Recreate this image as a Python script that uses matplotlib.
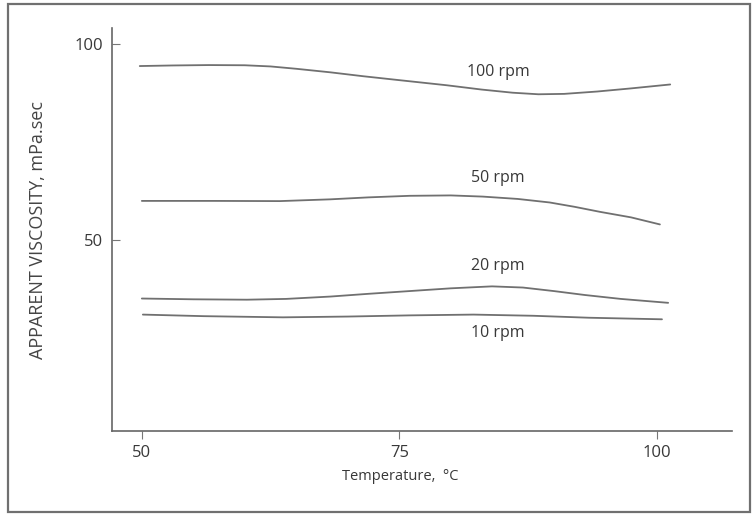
import matplotlib
matplotlib.use("Agg")
import matplotlib.pyplot as plt
from matplotlib.patches import Rectangle

plt.rcParams['font.family'] = ['Open Sans', 'DejaVu Sans']

## Apparent viscosity vs temperature
temp_100 = [49.8, 53.0, 56.5, 60.0, 62.5, 65.0, 68.3, 71.5, 75.0, 79.6, 83.0,
            86.0, 88.5, 91.0, 94.2, 97.5, 101.3]
visc_100 = [94.4, 94.55, 94.65, 94.6, 94.3, 93.7, 92.8, 91.8, 90.8, 89.5, 88.4,
            87.6, 87.2, 87.3, 87.9, 88.7, 89.7]

temp_50 = [50.0, 57.0, 63.4, 68.3, 72.0, 76.0, 80.0, 83.1, 86.5, 89.6, 92.0,
           94.5, 97.5, 100.3]
visc_50 = [60.0, 60.0, 59.95, 60.4, 60.9, 61.3, 61.4, 61.1, 60.5, 59.6, 58.5,
           57.2, 55.8, 54.0]

temp_20 = [50.0, 55.0, 60.2, 64.0, 68.3, 72.0, 76.0, 80.0, 84.0, 87.0, 90.0,
           93.0, 96.5, 101.1]
visc_20 = [35.1, 34.9, 34.8, 35.0, 35.6, 36.3, 37.0, 37.7, 38.2, 37.9, 37.0,
           36.0, 35.0, 34.0]

temp_10 = [50.1, 56.0, 63.7, 70.0, 76.0, 82.2, 88.0, 93.4, 100.5]
visc_10 = [31.0, 30.6, 30.3, 30.5, 30.8, 31.0, 30.7, 30.2, 29.8]

series = [
    (temp_100, visc_100, "100 rpm", 92.9),
    (temp_50, visc_50, "50 rpm", 65.8),
    (temp_20, visc_20, "20 rpm", 43.4),
    (temp_10, visc_10, "10 rpm", 26.3),
]
label_temp = 84.6

xticks = [50, 75, 100]
yticks = [50, 100]

line_col = "#707070"
text_col = "#383838"

fig = plt.figure(figsize=(7.52, 5.17), dpi=100)
ax = fig.add_axes([0.1489, 0.1663, 0.8245, 0.7795])

for t, v, name, ly in series:
    ax.plot(t, v, color=line_col, lw=1.3, solid_capstyle="round")
    ax.text(label_temp, ly, name, ha="center", va="center",
            fontsize=11.5, color=text_col)

ax.set_xlim(47.1, 107.3)
ax.set_ylim(1.3, 104.1)
ax.set_xticks(xticks)
ax.set_yticks(yticks)
ax.tick_params(axis="x", direction="out", length=6, width=0.8,
               colors="#777777", labelcolor=text_col, labelsize=12, pad=4)
ax.tick_params(axis="y", direction="in", length=6, width=0.8,
               colors="#777777", labelcolor=text_col, labelsize=12, pad=6.5)

for side in ["top", "right"]:
    ax.spines[side].set_visible(False)
for side in ["left", "bottom"]:
    ax.spines[side].set_color("#666666")
    ax.spines[side].set_linewidth(1.2)

ax.set_ylabel("APPARENT VISCOSITY, mPa.sec", fontsize=13, color="#444444",
              labelpad=20)
fig.text(400 / 752, 1 - 477 / 517, "Temperature,  \u00b0C", ha="center",
         va="center", fontsize=10.5, color=text_col)

## outer frame around the whole figure
fig.patches.append(Rectangle((8 / 752, 5 / 517), 742 / 752, 508 / 517,
                             transform=fig.transFigure, fill=False,
                             edgecolor="#707070", lw=1.6))

plt.savefig("out.png", dpi=100)
